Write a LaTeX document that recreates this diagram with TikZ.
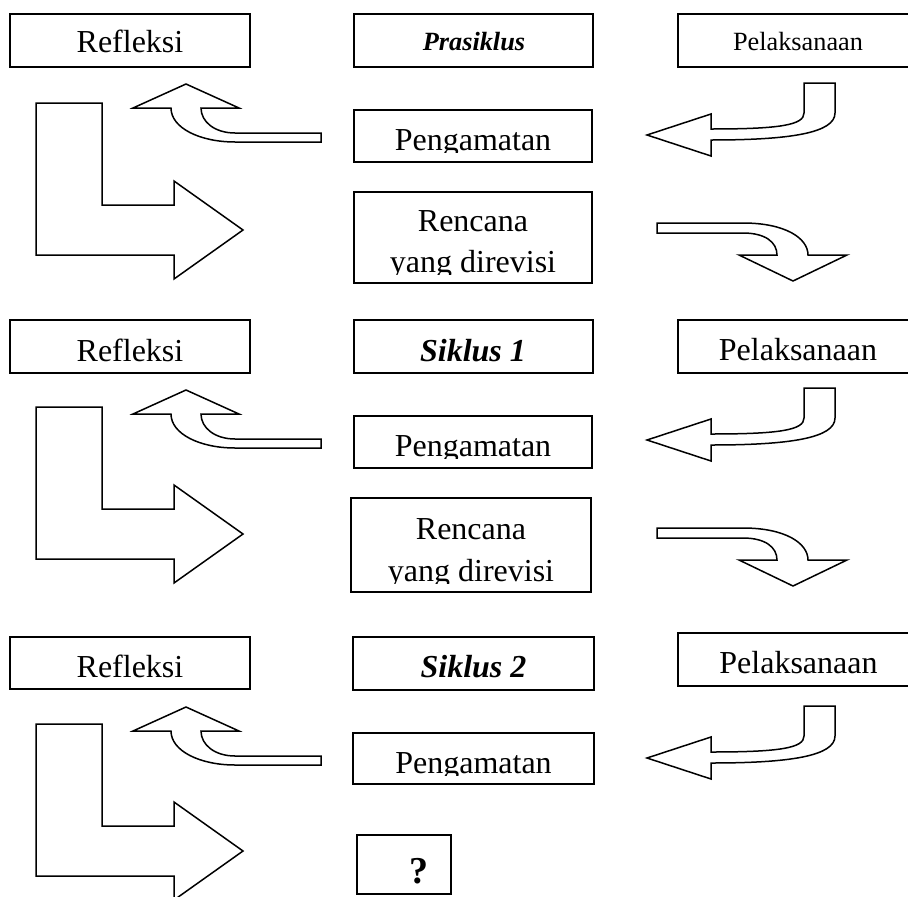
\documentclass[tikz,border=0pt]{standalone}
\usepackage{fontspec}
\setmainfont{Liberation Serif}
\usetikzlibrary{fit}
\begin{document}
\begin{tikzpicture}[x=1pt,y=-1pt,
  box/.style={draw, line width=1.8pt, inner sep=0pt},
  arrowshape/.style={draw, line width=1.5pt, line join=miter, fill=white},
  txt/.style={anchor=base, inner sep=0pt, font=\fontsize{32}{36}\selectfont},
  smalltxt/.style={anchor=base, inner sep=0pt, font=\fontsize{26.3}{30}\selectfont},
  bitxt/.style={txt, font=\fontsize{32}{36}\selectfont\bfseries\itshape},
  smallbitxt/.style={smalltxt, font=\fontsize{26.3}{30}\selectfont\bfseries\itshape},
  qtxt/.style={anchor=base, inner sep=0pt, font=\fontsize{38}{42}\selectfont\bfseries}]
\useasboundingbox (0,0) rectangle (908,897);
\clip (0,0) rectangle (908,897);

% ---------- arrow shapes ----------
\newcommand\uparrowshape{%
  \path[arrowshape] (321,133) -- (235,133) .. controls (215,133) and (201,122) .. (201,108)
    -- (239,108) -- (186,84) -- (133,108) -- (171,108)
    .. controls (171,128) and (200,142) .. (235,142) -- (321,142) -- cycle;}
\newcommand\larrowshape{%
  \path[arrowshape] (36,103) -- (102,103) -- (102,205) -- (174,205) -- (174,181)
    -- (243,230) -- (174,279) -- (174,255) -- (36,255) -- cycle;}
\newcommand\bentleftshape{%
  \path[arrowshape] (804,83) -- (835,83) -- (835,113) .. controls (835,133) and (790,140) .. (711,140)
    -- (711,156) -- (647,135) -- (711,114) -- (711,129)
    .. controls (780,129) and (804,125) .. (804,113) -- cycle;}
\newcommand\downcurveshape{%
  \path[arrowshape] (657,223) -- (743,223) .. controls (785,223) and (808,238) .. (808,255)
    -- (847,255) -- (793,281) -- (739,255) -- (777,255)
    .. controls (777,242) and (765,233) .. (743,233) -- (657,233) -- cycle;}

% row 1
\uparrowshape
\larrowshape
\bentleftshape
\downcurveshape
% row 2
\begin{scope}[shift={(0,306)}]\uparrowshape\end{scope}
\begin{scope}[shift={(0,304)}]\larrowshape\end{scope}
\begin{scope}[shift={(0,305)}]\bentleftshape\end{scope}
\begin{scope}[shift={(0,305)}]\downcurveshape\end{scope}
% row 3
\begin{scope}[shift={(0,623)}]\uparrowshape\end{scope}
\begin{scope}[shift={(0,621)}]\larrowshape\end{scope}
\begin{scope}[shift={(0,623)}]\bentleftshape\end{scope}

% ---------- boxes ----------
\node[box, fit={(10,14)(250,67)}] (refl1) {};
\node[box, fit={(354,14)(593,67)}] (pras) {};
\node[box, fit={(678,14)(918,67)}] (pel1) {};
\node[box, fit={(354,110)(592,162)}] (peng1) {};
\node[box, fit={(354,192)(592,283)}] (ren1) {};

\node[box, fit={(10,320)(250,373)}] (refl2) {};
\node[box, fit={(354,320)(593,373)}] (sik1) {};
\node[box, fit={(678,320)(918,373)}] (pel2) {};
\node[box, fit={(354,416)(592,468)}] (peng2) {};
\node[box, fit={(351,498)(591,592)}] (ren2) {};

\node[box, fit={(10,637)(250,689)}] (refl3) {};
\node[box, fit={(353,637)(594,690)}] (sik2) {};
\node[box, fit={(678,633)(919,686)}] (pel3) {};
\node[box, fit={(353,733)(594,784)}] (peng3) {};
\node[box, fit={(357,835)(451,894)}] (qbox) {};

% ---------- texts ----------
\node[txt] (trefl1) at (130,52) {Refleksi};
\node[smallbitxt] (tpras) at (474,50) {Prasiklus};
\node[smalltxt] (tpel1) at (798,50) {Pelaksanaan};
\begin{scope}\clip (354,110) rectangle (592,152);
  \node[txt] (tpeng1) at (473,150) {Pengamatan};\end{scope}
\node[txt] (tren1a) at (473,231) {Rencana};
\begin{scope}\clip (354,192) rectangle (592,274);
  \node[txt] (tren1b) at (473,272) {yang direvisi};\end{scope}

\node[txt] (trefl2) at (130,361) {Refleksi};
\node[bitxt] (tsik1) at (473,361) {Siklus 1};
\node[txt] (tpel2) at (798,360) {Pelaksanaan};
\begin{scope}\clip (354,416) rectangle (592,458);
  \node[txt] (tpeng2) at (473,456) {Pengamatan};\end{scope}
\node[txt] (tren2a) at (471,539) {Rencana};
\begin{scope}\clip (351,498) rectangle (591,583);
  \node[txt] (tren2b) at (471,581) {yang direvisi};\end{scope}

\node[txt] (trefl3) at (130,677) {Refleksi};
\node[bitxt] (tsik2) at (473.5,677) {Siklus 2};
\node[txt] (tpel3) at (798.5,673) {Pelaksanaan};
\begin{scope}\clip (353,733) rectangle (594,775);
  \node[txt] (tpeng3) at (473.5,773) {Pengamatan};\end{scope}
\node[qtxt] (tq) at (419,883) {?};
\end{tikzpicture}
\end{document}
